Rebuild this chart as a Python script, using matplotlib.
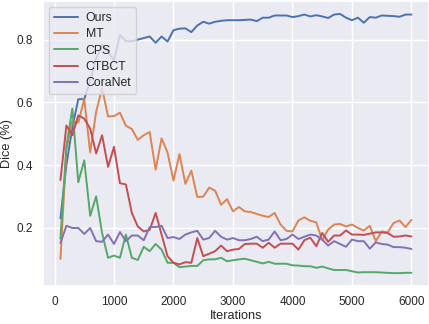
import numpy as np
import matplotlib
matplotlib.use('Agg')
import matplotlib.pyplot as plt
import seaborn as sns

# iterations 100..6000, one point every 100
iterations = list(range(100, 6100, 100))

ours = [0.23, 0.40, 0.52, 0.61, 0.61, 0.67, 0.74, 0.785, 0.76, 0.735,
        0.815, 0.795, 0.795, 0.80, 0.805, 0.81, 0.79, 0.81, 0.794, 0.83,
        0.835, 0.836, 0.824, 0.845, 0.857, 0.851, 0.857, 0.86, 0.862, 0.862,
        0.862, 0.863, 0.864, 0.859, 0.87, 0.87, 0.877, 0.877, 0.877, 0.872,
        0.875, 0.88, 0.874, 0.878, 0.874, 0.869, 0.88, 0.882, 0.87, 0.862,
        0.87, 0.854, 0.872, 0.87, 0.877, 0.876, 0.875, 0.873, 0.88, 0.88]

mt = [0.10, 0.45, 0.54, 0.535, 0.61, 0.44, 0.57, 0.645, 0.555, 0.556,
      0.567, 0.525, 0.515, 0.48, 0.495, 0.505, 0.385, 0.485, 0.44, 0.35,
      0.435, 0.34, 0.382, 0.298, 0.299, 0.328, 0.318, 0.273, 0.291, 0.252,
      0.266, 0.252, 0.250, 0.244, 0.238, 0.234, 0.247, 0.210, 0.190, 0.188,
      0.223, 0.233, 0.222, 0.217, 0.160, 0.194, 0.210, 0.212, 0.204, 0.210,
      0.199, 0.191, 0.206, 0.157, 0.188, 0.185, 0.215, 0.223, 0.202, 0.225]

cps = [0.165, 0.46, 0.58, 0.345, 0.415, 0.238, 0.30, 0.183, 0.104, 0.111,
       0.104, 0.178, 0.104, 0.097, 0.139, 0.125, 0.148, 0.130, 0.088, 0.088,
       0.074, 0.076, 0.078, 0.078, 0.096, 0.099, 0.099, 0.104, 0.093, 0.096,
       0.099, 0.101, 0.096, 0.091, 0.086, 0.091, 0.085, 0.085, 0.085, 0.080,
       0.079, 0.077, 0.077, 0.072, 0.076, 0.070, 0.065, 0.065, 0.065, 0.061,
       0.057, 0.058, 0.058, 0.058, 0.057, 0.056, 0.055, 0.055, 0.056, 0.056]

ctbct = [0.352, 0.526, 0.495, 0.558, 0.548, 0.516, 0.437, 0.495, 0.394, 0.458,
         0.342, 0.338, 0.247, 0.204, 0.188, 0.193, 0.247, 0.178, 0.109, 0.088,
         0.083, 0.090, 0.088, 0.167, 0.109, 0.117, 0.125, 0.143, 0.125, 0.130,
         0.132, 0.148, 0.149, 0.149, 0.136, 0.152, 0.136, 0.149, 0.149, 0.149,
         0.130, 0.160, 0.168, 0.141, 0.183, 0.155, 0.175, 0.175, 0.191, 0.178,
         0.178, 0.177, 0.181, 0.185, 0.185, 0.183, 0.171, 0.172, 0.175, 0.172]

coranet = [0.151, 0.206, 0.199, 0.199, 0.180, 0.199, 0.157, 0.155, 0.178, 0.148,
           0.186, 0.157, 0.175, 0.175, 0.160, 0.202, 0.202, 0.206, 0.167, 0.170,
           0.164, 0.178, 0.185, 0.190, 0.162, 0.167, 0.190, 0.171, 0.162, 0.167,
           0.160, 0.160, 0.164, 0.171, 0.157, 0.162, 0.188, 0.160, 0.164, 0.178,
           0.164, 0.171, 0.178, 0.175, 0.162, 0.143, 0.157, 0.148, 0.139, 0.162,
           0.157, 0.157, 0.133, 0.153, 0.148, 0.146, 0.138, 0.138, 0.136, 0.132]

methods = ['Ours', 'MT', 'CPS', 'CTBCT', 'CoraNet']

sns.set_theme(style='darkgrid')
plt.rcParams['font.family'] = ['Liberation Sans', 'DejaVu Sans']

fig = plt.figure(figsize=(4.29, 3.24), dpi=100)
ax = fig.add_axes([0.100, 0.117, 0.900, 0.880])

for name, vals in zip(methods, [ours, mt, cps, ctbct, coranet]):
    ax.plot(iterations, vals, label=name, linewidth=1.4)

ax.set_xticks([0, 1000, 2000, 3000, 4000, 5000, 6000])
ax.set_yticks([0.2, 0.4, 0.6, 0.8])
# ticks are hidden in darkgrid, so zero length keeps the label gap right
ax.tick_params(labelsize=8.5, length=0, pad=7.2)
ax.set_xlabel('Iterations', fontsize=9.2)
ax.set_ylabel('Dice (%)', fontsize=9.2)
ax.xaxis.set_label_coords(0.5, -0.083)
ax.yaxis.set_label_coords(-0.078, 0.5)
ax.legend(loc='upper left', fontsize=8.8, labelspacing=0.35, handletextpad=0.6)

fig.savefig('out.png', dpi=100)
